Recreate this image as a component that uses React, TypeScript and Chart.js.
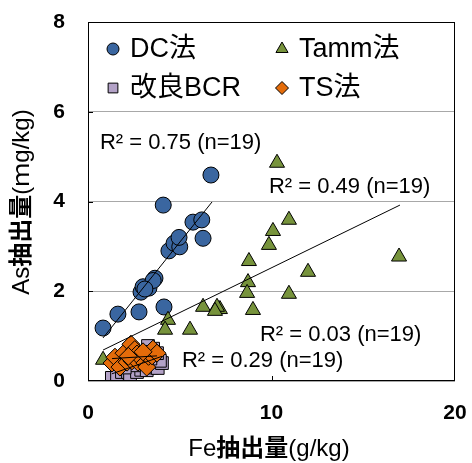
import { useEffect, useRef } from "react";
import { Chart, registerables } from "chart.js";

Chart.register(...registerables);

// ---- data ----
const dcFe = [0.82, 1.63, 2.78, 4.14, 2.89, 3.0, 3.32, 3.65, 3.55, 4.41, 4.69, 5.0, 4.96, 5.72, 6.2, 6.27, 4.1, 6.7, 3.1];
const dcAs = [1.18, 1.49, 1.54, 1.65, 1.98, 2.1, 2.07, 2.29, 2.24, 2.9, 3.07, 2.99, 3.2, 3.54, 3.59, 3.18, 3.92, 4.59, 2.05];

const tammFe = [10.3, 10.95, 10.08, 9.86, 16.95, 8.77, 11.99, 8.72, 8.67, 10.95, 8.99, 7.19, 6.27, 7.03, 6.92, 4.36, 4.2, 5.56, 0.82];
const tammAs = [4.86, 3.59, 3.34, 3.03, 2.77, 2.67, 2.43, 2.2, 1.96, 1.94, 1.58, 1.6, 1.65, 1.65, 1.56, 1.36, 1.14, 1.14, 0.47];

const bcrFe = [1.3, 1.58, 1.85, 2.18, 2.29, 2.67, 2.9, 3.2, 3.5, 3.8, 4.03, 3.92, 3.76, 3.55, 3.27, 3.0, 2.5, 2.0, 3.4];
const bcrAs = [0.07, 0.13, 0.2, 0.2, 0.09, 0.2, 0.25, 0.24, 0.3, 0.29, 0.4, 0.45, 0.62, 0.72, 0.78, 0.65, 0.35, 0.3, 0.5];

const tsFe = [1.31, 1.47, 1.74, 1.96, 2.13, 2.34, 2.4, 2.55, 2.67, 2.72, 2.9, 3.1, 3.2, 3.3, 3.49, 3.54, 3.76, 2.2, 3.0];
const tsAs = [0.4, 0.53, 0.31, 0.62, 0.42, 0.82, 0.45, 0.7, 0.6, 0.42, 0.5, 0.4, 0.31, 0.55, 0.56, 0.71, 0.62, 0.55, 0.65];

// trend line end points [x0, x1], [y0, y1]
const dcTrendFe = [0.82, 6.76];
const dcTrendAs = [0.96, 3.99];
const tammTrendFe = [0.82, 17.0];
const tammTrendAs = [0.69, 3.92];
const bcrTrendFe = [1.3, 4.03];
const bcrTrendAs = [0.16, 0.55];
const tsTrendFe = [1.31, 3.76];
const tsTrendAs = [0.5, 0.56];

const seriesNames = ["DC法", "Tamm法", "改良BCR", "TS法"];
const r2Labels = ["R² = 0.75 (n=19)", "R² = 0.49 (n=19)", "R² = 0.03 (n=19)", "R² = 0.29 (n=19)"];
const r2AnchorFe = [0.65, 9.86, 9.37, 5.12];
const r2AnchorAs = [5.3, 4.32, 1.02, 0.45];

const xTicks = [0, 10, 20];
const yTicks = [0, 2, 4, 6, 8];

const FONT = "'Liberation Sans', Arial, 'Noto Sans CJK JP', sans-serif";
const BLUE = "#3A66A0";
const GREEN = "#77933C";
const LAVENDER = "#B3A2C7";
const ORANGE = "#E46C0A";

const pts = (xs: number[], ys: number[]) => xs.map((x, i) => ({ x, y: ys[i] }));

function drawMarker(ctx: CanvasRenderingContext2D, style: string, x: number, y: number, r: number, fill: string) {
  ctx.save();
  ctx.fillStyle = fill;
  ctx.strokeStyle = "#000";
  ctx.lineWidth = 1;
  ctx.beginPath();
  if (style === "circle") {
    ctx.arc(x, y, r, 0, Math.PI * 2);
  } else if (style === "triangle") {
    ctx.moveTo(x, y - r);
    ctx.lineTo(x + r * 0.866, y + r * 0.5);
    ctx.lineTo(x - r * 0.866, y + r * 0.5);
    ctx.closePath();
  } else if (style === "rect") {
    ctx.rect(x - r * 0.75, y - r * 0.75, r * 1.5, r * 1.5);
  } else {
    ctx.moveTo(x, y - r);
    ctx.lineTo(x + r, y);
    ctx.lineTo(x, y + r);
    ctx.lineTo(x - r, y);
    ctx.closePath();
  }
  ctx.fill();
  ctx.stroke();
  ctx.restore();
}

type Seg = { t: string; bold: boolean };
function drawMixed(ctx: CanvasRenderingContext2D, segs: Seg[], cx: number, cy: number, size: number, rotate: boolean) {
  ctx.save();
  ctx.translate(cx, cy);
  if (rotate) ctx.rotate(-Math.PI / 2);
  ctx.textBaseline = "middle";
  ctx.textAlign = "left";
  ctx.fillStyle = "#000";
  const widths = segs.map((s) => {
    ctx.font = `${s.bold ? "bold " : ""}${size}px ${FONT}`;
    return ctx.measureText(s.t).width;
  });
  let x = -widths.reduce((a, b) => a + b, 0) / 2;
  segs.forEach((s, i) => {
    ctx.font = `${s.bold ? "bold " : ""}${size}px ${FONT}`;
    ctx.fillText(s.t, x, 0);
    x += widths[i];
  });
  ctx.restore();
}

const overlay = {
  id: "overlay",
  afterDraw(chart: any) {
    const { ctx, chartArea: a, scales } = chart;
    const xs = scales.x;
    const ys = scales.y;
    ctx.save();
    // border
    ctx.strokeStyle = "#000";
    ctx.lineWidth = 1;
    ctx.strokeRect(a.left + 0.5, a.top + 0.5, a.right - a.left - 1, a.bottom - a.top - 1);
    // inward tick marks
    ctx.beginPath();
    yTicks.slice(1, -1).forEach((v) => {
      const py = Math.round(ys.getPixelForValue(v)) + 0.5;
      ctx.moveTo(a.left, py);
      ctx.lineTo(a.left + 5, py);
    });
    xTicks.slice(1, -1).forEach((v) => {
      const px = Math.round(xs.getPixelForValue(v)) + 0.5;
      ctx.moveTo(px, a.bottom);
      ctx.lineTo(px, a.bottom - 5);
    });
    ctx.stroke();

    // R² labels
    ctx.font = `22px ${FONT}`;
    ctx.fillStyle = "#000";
    ctx.textBaseline = "middle";
    ctx.textAlign = "left";
    r2Labels.forEach((t, i) => {
      ctx.fillText(t, xs.getPixelForValue(r2AnchorFe[i]), ys.getPixelForValue(r2AnchorAs[i]));
    });

    // legend
    const styles = ["circle", "triangle", "rect", "rectRot"];
    const fills = [BLUE, GREEN, LAVENDER, ORANGE];
    const sizes = [6, 7, 6.5, 6.5];
    const colX = [a.left + 25, a.left + 194];
    const rowY = [a.top + 27, a.top + 66];
    seriesNames.forEach((name, i) => {
      const cx = colX[i % 2];
      const cy = rowY[Math.floor(i / 2)];
      drawMarker(ctx, styles[i], cx, cy, sizes[i], fills[i]);
      ctx.fillStyle = "#000";
      ctx.font = `27px ${FONT}`;
      ctx.fillText(name, cx + 17, cy + 1);
    });

    // axis titles
    drawMixed(ctx, [{ t: "Fe", bold: false }, { t: "抽出量", bold: true }, { t: "(g/kg)", bold: false }], a.left + 181, a.bottom + 68, 24, false);
    drawMixed(ctx, [{ t: "As", bold: false }, { t: "抽出量", bold: true }, { t: "(ｍg/kg)", bold: false }], 22, a.top + 180, 24, true);
    ctx.restore();
  },
};

export default function App() {
  const ref = useRef<HTMLCanvasElement>(null);
  useEffect(() => {
    if (!ref.current) return;
    const lineDs = (xs: number[], ys: number[]) => ({
      type: "line" as const,
      data: pts(xs, ys),
      borderColor: "#000",
      borderWidth: 1,
      pointRadius: 0,
      fill: false,
      showLine: true,
      order: 0,
    });
    const chart = new Chart(ref.current, {
      type: "scatter",
      data: {
        datasets: [
          lineDs(dcTrendFe, dcTrendAs),
          lineDs(tammTrendFe, tammTrendAs),
          lineDs(bcrTrendFe, bcrTrendAs),
          lineDs(tsTrendFe, tsTrendAs),
          { label: seriesNames[3], data: pts(tsFe, tsAs), pointStyle: "rectRot", pointRadius: 9, backgroundColor: ORANGE, borderColor: "#000", borderWidth: 1, order: 1 },
          { label: seriesNames[2], data: pts(bcrFe, bcrAs), pointStyle: "rect", pointRadius: 9, backgroundColor: LAVENDER, borderColor: "#000", borderWidth: 1, order: 2 },
          { label: seriesNames[1], data: pts(tammFe, tammAs), pointStyle: "triangle", pointRadius: 8.7, backgroundColor: GREEN, borderColor: "#000", borderWidth: 1, order: 3 },
          { label: seriesNames[0], data: pts(dcFe, dcAs), pointStyle: "circle", pointRadius: 8, backgroundColor: BLUE, borderColor: "#000", borderWidth: 1, order: 4 },
        ] as any,
      },
      options: {
        responsive: false,
        animation: false,
        layout: { padding: { top: 22, right: 17, left: 0, bottom: 0 } },
        plugins: { legend: { display: false }, tooltip: { enabled: false } },
        scales: {
          x: {
            type: "linear",
            min: 0,
            max: 20,
            afterBuildTicks: (s: any) => { s.ticks = xTicks.map((v) => ({ value: v })); },
            afterFit: (s: any) => { s.height = 82; s.paddingLeft = 0; s.paddingRight = 0; },
            grid: { display: false, drawTicks: false },
            border: { display: false },
            ticks: { color: "#000", font: { family: FONT, size: 21, weight: "bold" }, padding: 20, maxRotation: 0 },
          },
          y: {
            type: "linear",
            min: 0,
            max: 8,
            afterBuildTicks: (s: any) => { s.ticks = yTicks.map((v) => ({ value: v })); },
            afterFit: (s: any) => { s.width = 88; s.paddingTop = 0; s.paddingBottom = 0; },
            grid: { color: "#A8A8A8", drawTicks: false, lineWidth: 1 },
            border: { display: false },
            ticks: { color: "#000", font: { family: FONT, size: 21, weight: "bold" }, padding: 23 },
          },
        },
      },
      plugins: [overlay],
    } as any);
    return () => chart.destroy();
  }, []);
  return (
    <canvas
      ref={ref}
      width={472}
      height={463}
      style={{ position: "absolute", left: 0, top: 0, width: 472, height: 463, background: "#fff" }}
    />
  );
}
